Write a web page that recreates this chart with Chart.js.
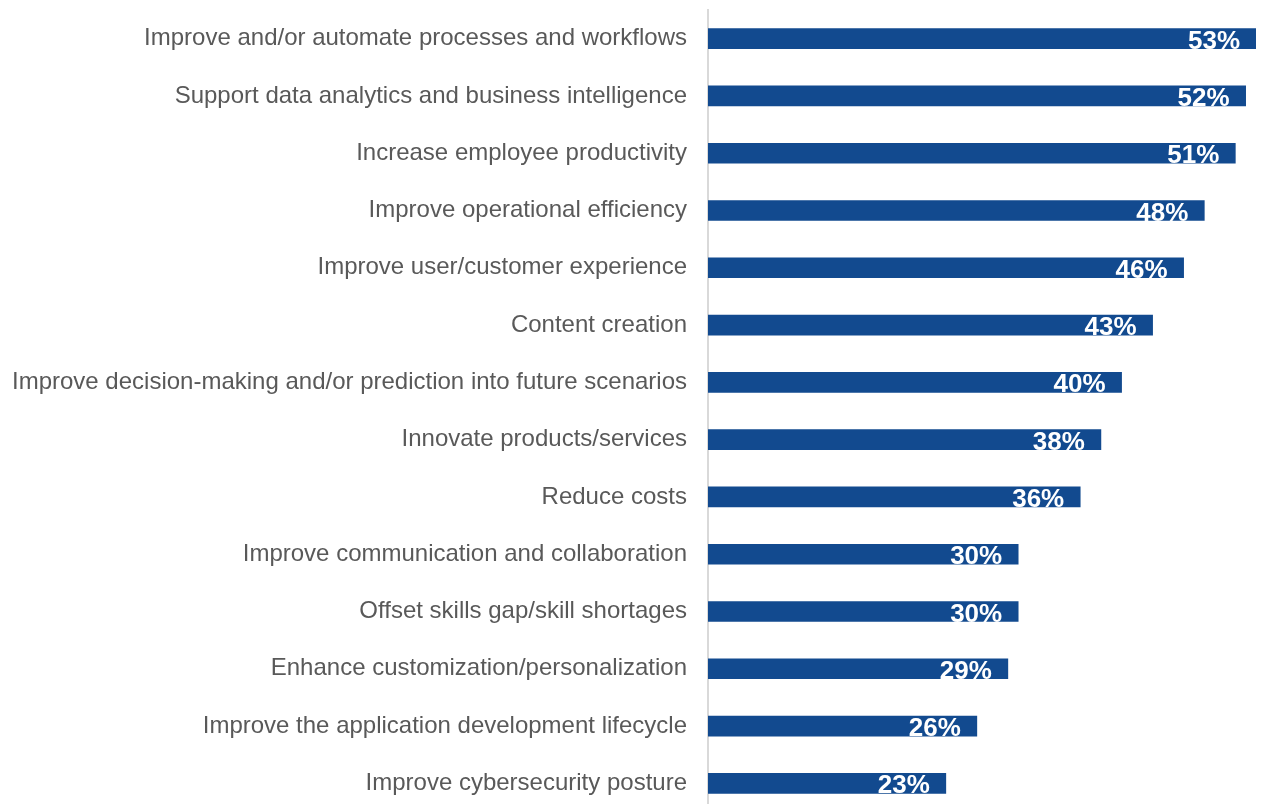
<!DOCTYPE html>
<html>
<head>
<meta charset="utf-8">
<script src="https://cdn.jsdelivr.net/npm/chart.js@4.4.1/dist/chart.umd.min.js"></script>
<style>
  html, body { margin: 0; padding: 0; overflow: hidden; background: #fff; }
  #wrap { width: 1261px; height: 822px; }
</style>
</head>
<body>
<div id="wrap"><canvas id="chart1" width="1261" height="822"></canvas></div>
<script>
var barColor = '#124a8f';

var categories = [
    'Improve and/or automate processes and workflows',
    'Support data analytics and business intelligence',
    'Increase employee productivity',
    'Improve operational efficiency',
    'Improve user/customer experience',
    'Content creation',
    'Improve decision-making and/or prediction into future scenarios',
    'Innovate products/services',
    'Reduce costs',
    'Improve communication and collaboration',
    'Offset skills gap/skill shortages',
    'Enhance customization/personalization',
    'Improve the application development lifecycle',
    'Improve cybersecurity posture'
];
var values = [53, 52, 51, 48, 46, 43, 40, 38, 36, 30, 30, 29, 26, 23];

// white % labels at the end of each bar
var valueLabels = {
    id: 'valueLabels',
    afterDatasetsDraw: function (chart) {
        var ctx = chart.ctx;
        var meta = chart.getDatasetMeta(0);
        ctx.save();
        ctx.font = 'bold 26px "Liberation Sans", Arial, sans-serif';
        ctx.fillStyle = '#ffffff';
        ctx.textAlign = 'right';
        ctx.textBaseline = 'alphabetic';
        meta.data.forEach(function (bar, i) {
            ctx.fillText(values[i] + '%', bar.x - 16, bar.y + 10);
        });
        ctx.restore();
    }
};

chart1Ctx = document.querySelector('canvas#chart1').getContext('2d');

chart1 = new Chart(chart1Ctx, {
    type: 'bar',
    data: {
        labels: categories,
        datasets: [{
            data: values,
            backgroundColor: barColor,
            barThickness: 20
        }]
    },
    options: {
        indexAxis: 'y',
        responsive: false,
        animation: false,
        layout: { padding: { left: 0, right: 5, top: 10, bottom: 10 } },
        plugins: {
            legend: { display: false },
            tooltip: { enabled: false }
        },
        scales: {
            x: {
                display: false,
                min: 0,
                max: 53
            },
            y: {
                afterFit: function (scale) {
                    scale.width = 708;
                    scale.paddingTop = 0;
                    scale.paddingBottom = 0;
                },
                grid: { display: false, drawTicks: false },
                border: { display: true, color: '#d9d9d9', width: 2 },
                ticks: {
                    padding: 21,
                    color: '#595959',
                    font: { family: '"Liberation Sans", Arial, sans-serif', size: 24 }
                }
            }
        }
    },
    plugins: [valueLabels]
});
</script>
</body>
</html>
